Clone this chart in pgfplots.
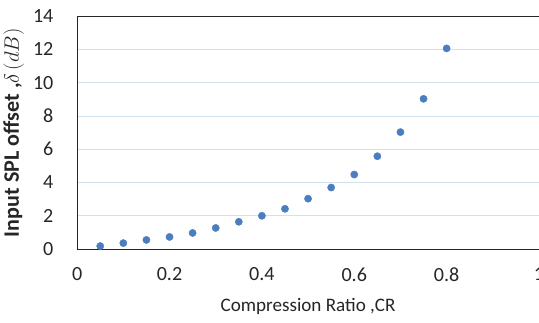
\documentclass[border=0pt]{standalone}
\usepackage{fontspec}
\setmainfont{Carlito}
\usepackage{pgfplots}
\pgfplotsset{compat=1.18}
\definecolor{ptblue}{HTML}{4A7EBF}
\definecolor{gridc}{HTML}{CFE2EE}
\begin{document}
\begin{tikzpicture}[trim axis right]
\begin{axis}[
  scale only axis,
  width=458bp, height=231bp,
  xmin=0, xmax=1, ymin=0, ymax=14,
  xtick={0,0.2,0.4,0.6,0.8,1},
  xticklabels={0,0.2,0.4,0.6,0.8,1},
  ytick={0,2,4,6,8,10,12,14},
  tick style={draw=none},
  ymajorgrids,
  grid style={gridc, line width=0.8pt},
  axis line style={black!85, line width=0.8pt},
  /pgf/number format/assume math mode=true,
  tick label style={font=\fontsize{20}{24}\selectfont, text=black!85},
  xticklabel style={yshift=-15bp},
  yticklabel style={xshift=-20bp},
  xlabel={Compression Ratio ,CR},
  ylabel={\bfseries Input SPL offset ,$\delta\,(dB)$},
  label style={font=\fontsize{19}{22}\selectfont, text=black!85},
  xlabel style={yshift=-10bp},
  ylabel style={yshift=2bp, font=\fontsize{22}{26}\selectfont},
]
\addplot[only marks, mark=*, mark size=3.6bp, mark options={fill=ptblue, draw=ptblue}] coordinates {
(0.05,0.18) (0.10,0.36) (0.15,0.55) (0.20,0.73) (0.25,0.97) (0.30,1.27)
(0.35,1.64) (0.40,2.00) (0.45,2.42) (0.50,3.03) (0.55,3.70) (0.60,4.48)
(0.65,5.58) (0.70,7.03) (0.75,9.03) (0.80,12.06)
};
\end{axis}
\path (current axis.north) ++(0,16bp) (current axis.south) ++(0,-73bp);
\end{tikzpicture}
\end{document}
